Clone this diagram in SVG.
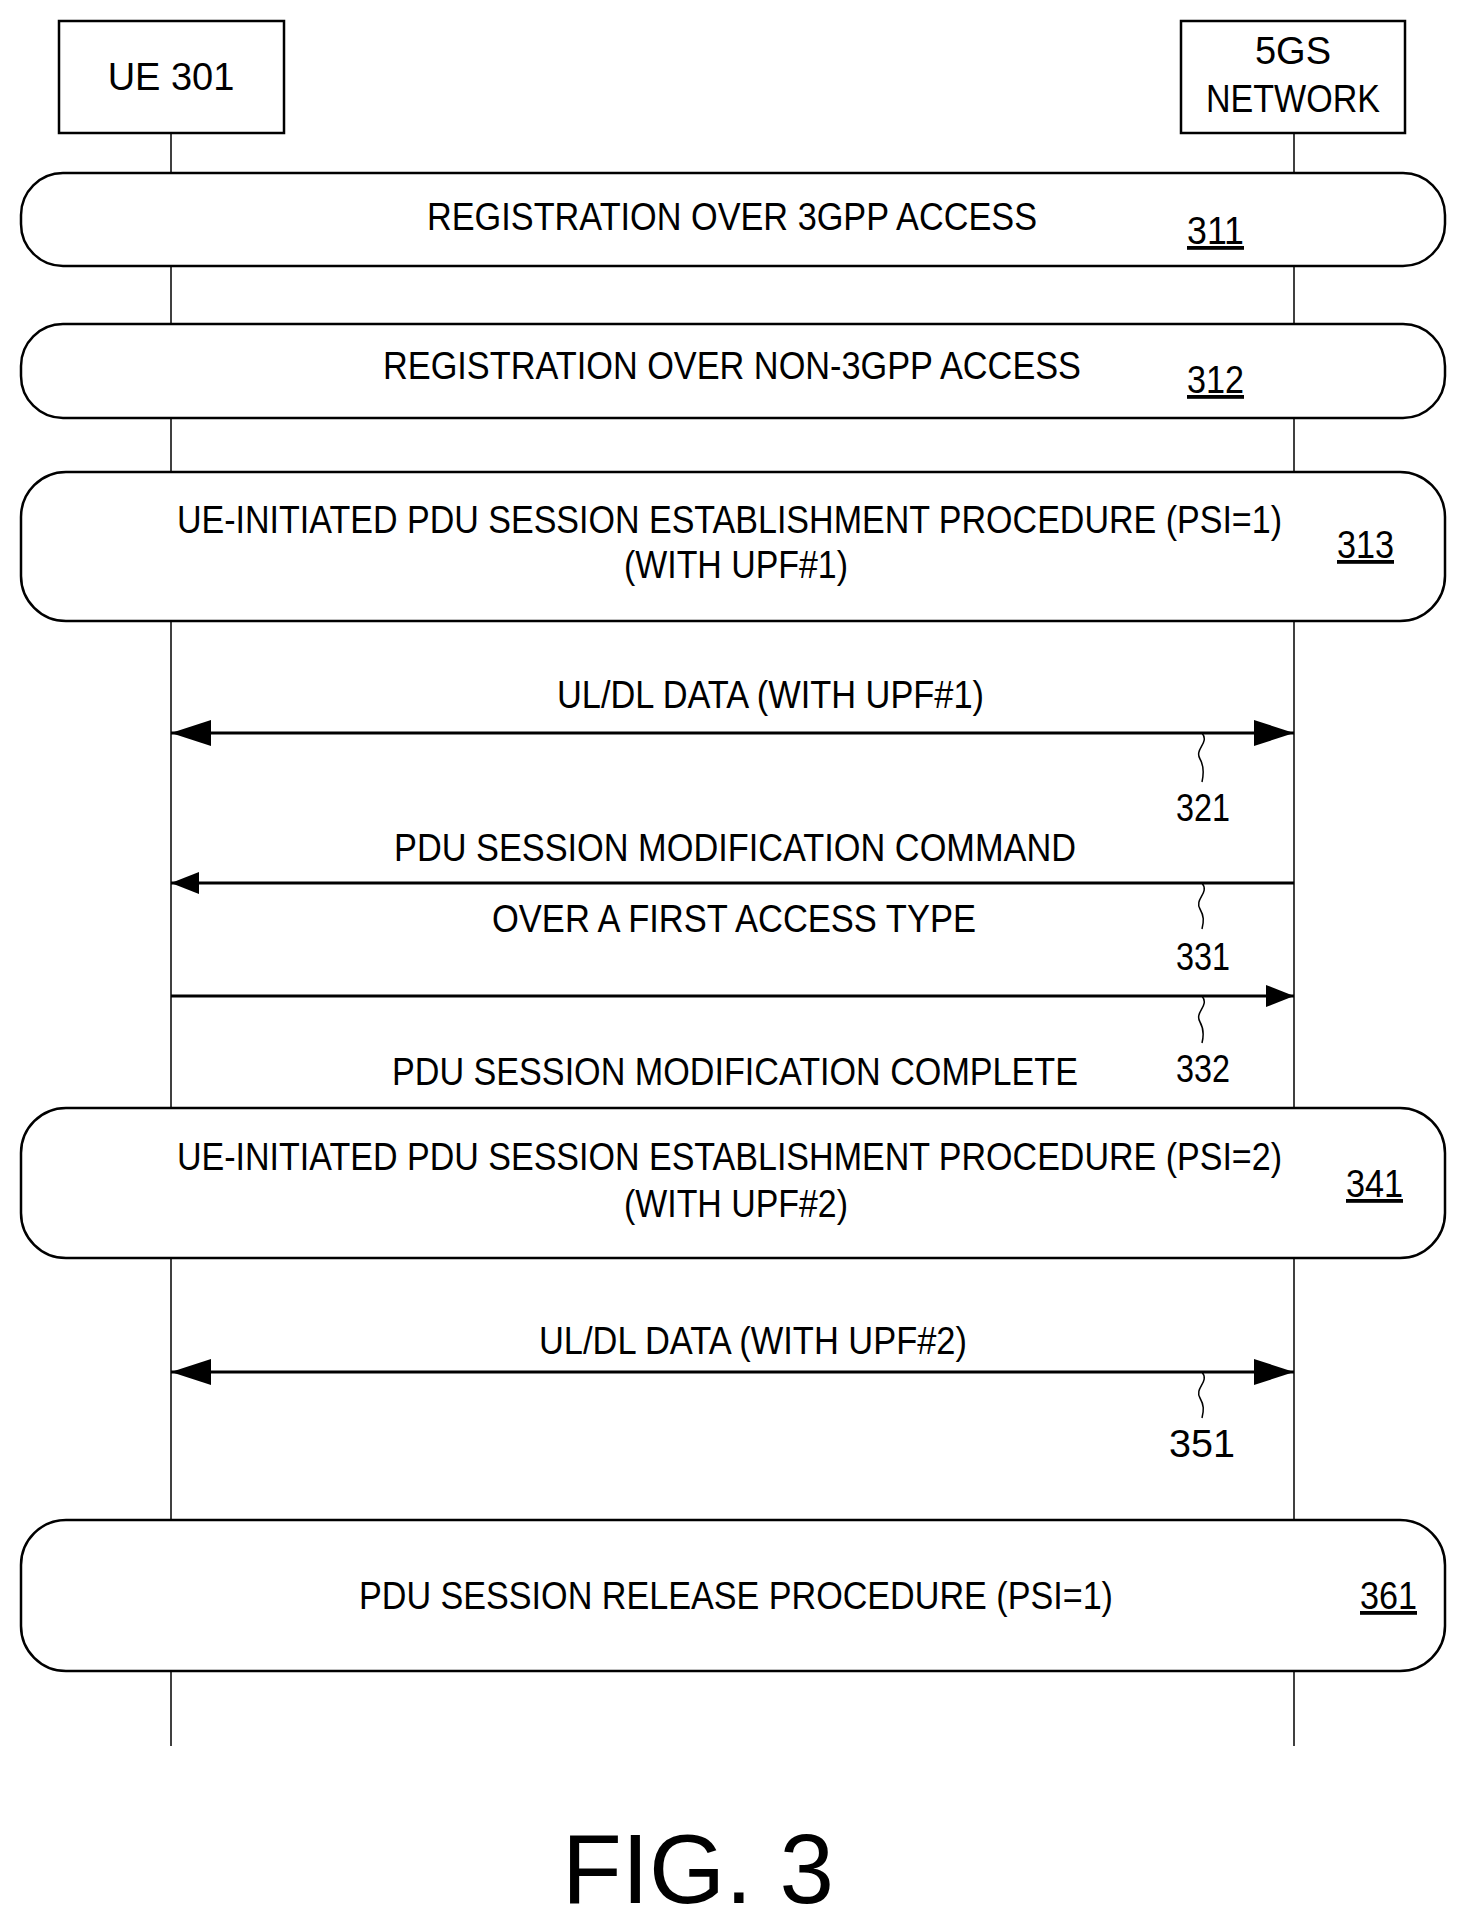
<svg xmlns="http://www.w3.org/2000/svg" width="1469" height="1925" viewBox="0 0 1469 1925">
<style>
text{font-family:"Liberation Sans",Arial,sans-serif;font-size:38px;fill:#000}
.box{fill:#fff;stroke:#000;stroke-width:2.5}
.life{stroke:#000;stroke-width:1.5;fill:none}
.msg{stroke:#000;stroke-width:3;fill:none}
.sq{stroke:#000;stroke-width:1.5;fill:none}
.ref{text-decoration:underline}
</style>
<defs>
<marker id="big" viewBox="0 0 40 26" refX="40" refY="13" markerWidth="40" markerHeight="26" markerUnits="userSpaceOnUse" orient="auto-start-reverse"><path d="M0,0 L40,13 L0,26 Z" fill="#000"/></marker>
<marker id="small" viewBox="0 0 28 22" refX="28" refY="11" markerWidth="28" markerHeight="22" markerUnits="userSpaceOnUse" orient="auto-start-reverse"><path d="M0,0 L28,11 L0,22 Z" fill="#000"/></marker>
</defs>
<g id="lifelines">
<line class="life" x1="171" y1="133" x2="171" y2="1746"/>
<line class="life" x1="1294" y1="133" x2="1294" y2="1746"/>
</g>
<g id="ue"><rect class="box" x="59" y="21" width="225" height="112"/><text x="171" y="90" text-anchor="middle">UE 301</text></g>
<g id="net"><rect class="box" x="1181" y="21" width="224" height="112"/><text x="1293" y="64" text-anchor="middle">5GS</text><text x="1293" y="112" text-anchor="middle" textLength="174" lengthAdjust="spacingAndGlyphs">NETWORK</text></g>
<g id="n311"><rect class="box" x="21" y="173" width="1424" height="93" rx="42"/><text x="427" y="230" textLength="610" lengthAdjust="spacingAndGlyphs">REGISTRATION OVER 3GPP ACCESS</text><text class="ref" x="1187" y="244" textLength="57" lengthAdjust="spacingAndGlyphs">311</text></g>
<g id="n312"><rect class="box" x="21" y="324" width="1424" height="94" rx="42"/><text x="383" y="379" textLength="698" lengthAdjust="spacingAndGlyphs">REGISTRATION OVER NON-3GPP ACCESS</text><text class="ref" x="1187" y="393" textLength="57" lengthAdjust="spacingAndGlyphs">312</text></g>
<g id="n313"><rect class="box" x="21" y="472" width="1424" height="149" rx="45"/><text x="177" y="533" textLength="1105" lengthAdjust="spacingAndGlyphs">UE-INITIATED PDU SESSION ESTABLISHMENT PROCEDURE (PSI=1)</text><text x="624" y="578" textLength="224" lengthAdjust="spacingAndGlyphs">(WITH UPF#1)</text><text class="ref" x="1337" y="558" textLength="57" lengthAdjust="spacingAndGlyphs">313</text></g>
<g id="n341"><rect class="box" x="21" y="1108" width="1424" height="150" rx="45"/><text x="177" y="1170" textLength="1105" lengthAdjust="spacingAndGlyphs">UE-INITIATED PDU SESSION ESTABLISHMENT PROCEDURE (PSI=2)</text><text x="624" y="1217" textLength="224" lengthAdjust="spacingAndGlyphs">(WITH UPF#2)</text><text class="ref" x="1346" y="1197" textLength="57" lengthAdjust="spacingAndGlyphs">341</text></g>
<g id="n361"><rect class="box" x="21" y="1520" width="1424" height="151" rx="45"/><text x="359" y="1609" textLength="754" lengthAdjust="spacingAndGlyphs">PDU SESSION RELEASE PROCEDURE (PSI=1)</text><text class="ref" x="1360" y="1609" textLength="57" lengthAdjust="spacingAndGlyphs">361</text></g>
<g id="connectors">
<line class="msg" x1="171" y1="733" x2="1294" y2="733" marker-start="url(#big)" marker-end="url(#big)"/>
<text x="557" y="708" textLength="427" lengthAdjust="spacingAndGlyphs">UL/DL DATA (WITH UPF#1)</text>
<path class="sq" d="M1202,733 c8,10 -8,16 -2,26 c4,7 4,14 2,23"/>
<text x="1176" y="821" textLength="54" lengthAdjust="spacingAndGlyphs">321</text>
<line class="msg" x1="1294" y1="883" x2="171" y2="883" marker-end="url(#small)"/>
<text x="394" y="861" textLength="682" lengthAdjust="spacingAndGlyphs">PDU SESSION MODIFICATION COMMAND</text>
<text x="492" y="932" textLength="484" lengthAdjust="spacingAndGlyphs">OVER A FIRST ACCESS TYPE</text>
<path class="sq" d="M1202,883 c8,10 -8,16 -2,26 c4,7 4,12 2,20"/>
<text x="1176" y="970" textLength="54" lengthAdjust="spacingAndGlyphs">331</text>
<line class="msg" x1="171" y1="996" x2="1294" y2="996" marker-end="url(#small)"/>
<path class="sq" d="M1202,996 c8,10 -8,16 -2,26 c4,7 4,13 2,21"/>
<text x="1176" y="1082" textLength="54" lengthAdjust="spacingAndGlyphs">332</text>
<text x="392" y="1085" textLength="686" lengthAdjust="spacingAndGlyphs">PDU SESSION MODIFICATION COMPLETE</text>
<line class="msg" x1="171" y1="1372" x2="1294" y2="1372" marker-start="url(#big)" marker-end="url(#big)"/>
<text x="539" y="1354" textLength="428" lengthAdjust="spacingAndGlyphs">UL/DL DATA (WITH UPF#2)</text>
<path class="sq" d="M1202,1372 c8,10 -8,16 -2,26 c4,7 4,12 2,20"/>
<text x="1169" y="1457" textLength="66" lengthAdjust="spacingAndGlyphs">351</text>
</g>
<text x="562" y="1903" style="font-size:98px" textLength="272" lengthAdjust="spacingAndGlyphs">FIG. 3</text>
</svg>
